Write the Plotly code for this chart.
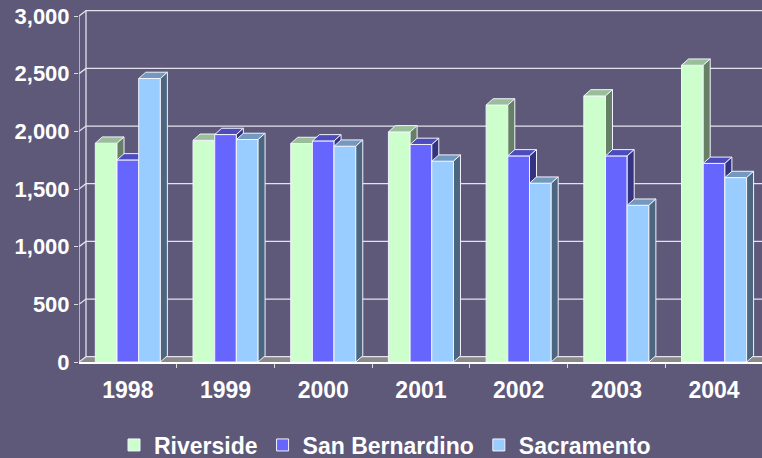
import plotly.graph_objects as go

# ---------------- data ----------------
years = ["1998", "1999", "2000", "2001", "2002", "2003", "2004"]
riverside = [1897, 1922, 1894, 1995, 2228, 2307, 2573]
san_bernardino = [1752, 1972, 1917, 1886, 1787, 1787, 1722]
sacramento = [2458, 1929, 1871, 1741, 1550, 1359, 1599]
y_ticks = [0, 500, 1000, 1500, 2000, 2500, 3000]
y_tick_text = ["0", "500", "1,000", "1,500", "2,000", "2,500", "3,000"]

# ---------------- style ----------------
BG = "#5E5879"
EDGE = "#F2F2FF"
GRID = "#E4E2EE"
FONT = dict(family="Liberation Sans, Arial, sans-serif", color="white", weight="bold")

W, H = 762, 458
ML, MR, MT, MB = 79, 0, 5, 96
plot_w = W - ML - MR
plot_h = H - MT - MB
PX_PER_X = 97.7
x_range = [-0.5, -0.5 + plot_w / PX_PER_X]
PX_PER_Y = 346 / 3000
y_range = [0, plot_h / PX_PER_Y]

DX = 7 / PX_PER_X          # depth offset in data units (x)
DY = 6.3 / PX_PER_Y        # depth offset in data units (y) for bars
WDY = 5.3 / PX_PER_Y       # depth offset for walls
BW = 0.222                 # bar width in category units
x_idx = list(range(len(years)))

series = [
    ("Riverside", riverside, "#CCFFCC", "#99BF99", "#668066"),
    ("San Bernardino", san_bernardino, "#6666FF", "#4C4CBF", "#333380"),
    ("Sacramento", sacramento, "#99CCFF", "#7399BF", "#4C6680"),
]

fig = go.Figure()

# floor
x_end = x_range[1] + 1
fig.add_trace(go.Scatter(
    x=[-0.5, x_end, x_end, -0.5 + DX, -0.5], y=[0, 0, WDY, WDY, 0],
    mode="lines", fill="toself", fillcolor="#8A8A8A", line=dict(width=0),
    hoverinfo="skip", showlegend=False))

# back wall gridlines (with left wall diagonals)
gx, gy = [], []
for v in y_ticks:
    gx += [-0.5, -0.5 + DX, x_end, None]
    gy += [v, v + WDY, v + WDY, None]
# left wall back edge and front axis line
gx += [-0.5 + DX, -0.5 + DX, None, -0.5, -0.5]
gy += [WDY, y_ticks[-1] + WDY, None, 0, y_ticks[-1]]
fig.add_trace(go.Scatter(x=gx, y=gy, mode="lines", line=dict(color=GRID, width=1.3),
                         hoverinfo="skip", showlegend=False))

# bars (front, top, side faces) drawn per series, left to right
for k, (name, vals, c_front, c_top, c_side) in enumerate(series):
    off = (k - 1.5) * BW
    fx, fy, tx, ty, sx, sy = [], [], [], [], [], []
    for i, v in zip(x_idx, vals):
        l = i + off
        r = l + BW
        fx += [l, r, r, l, l, None]
        fy += [0, 0, v, v, 0, None]
        tx += [l, r, r + DX, l + DX, l, None]
        ty += [v, v, v + DY, v + DY, v, None]
        sx += [r, r + DX, r + DX, r, r, None]
        sy += [0, DY, v + DY, v, 0, None]
    for px, py, col in ((fx, fy, c_front), (tx, ty, c_top), (sx, sy, c_side)):
        fig.add_trace(go.Scatter(x=px, y=py, mode="lines", fill="toself", fillcolor=col,
                                 line=dict(color=EDGE, width=1), hoverinfo="skip",
                                 showlegend=False))

# legend entries
for name, vals, c_front, c_top, c_side in series:
    fig.add_trace(go.Bar(x=[None], y=[None], name=name,
                         marker=dict(color=c_front, line=dict(color=EDGE, width=1))))

fig.update_layout(
    width=W, height=H, autosize=False,
    margin=dict(l=ML, r=MR, t=MT, b=MB, autoexpand=False),
    paper_bgcolor=BG, plot_bgcolor=BG,
    showlegend=True,
    legend=dict(orientation="h", xref="container", x=385 / W, xanchor="center",
                yref="container", y=1 - 445 / H, yanchor="middle",
                font=dict(size=23, **FONT), bgcolor="rgba(0,0,0,0)",
                itemclick=False, itemdoubleclick=False),
    xaxis=dict(range=x_range, tickvals=x_idx, ticktext=years, ticks="",
               showgrid=False, zeroline=False, showline=True, linecolor="white",
               linewidth=1.5, tickfont=dict(size=23, **FONT), ticklabelstandoff=7,
               automargin=False,
               minor=dict(tickvals=[i + 0.5 for i in x_idx], ticks="outside",
                          ticklen=4, tickcolor="#DDDDDD", tickwidth=1, showgrid=False),
               fixedrange=True),
    yaxis=dict(range=y_range, tickvals=y_ticks, ticktext=y_tick_text, ticks="outside",
               ticklen=4, tickcolor="#DDDDDD", tickwidth=1, showgrid=False,
               zeroline=False, showline=False, tickfont=dict(size=22, **FONT),
               ticklabelstandoff=0, automargin=False, fixedrange=True),
)

fig.write_html("out.html", config={"displayModeBar": False},
               post_script="document.body.style.margin='0';document.body.style.background='%s';" % BG)
